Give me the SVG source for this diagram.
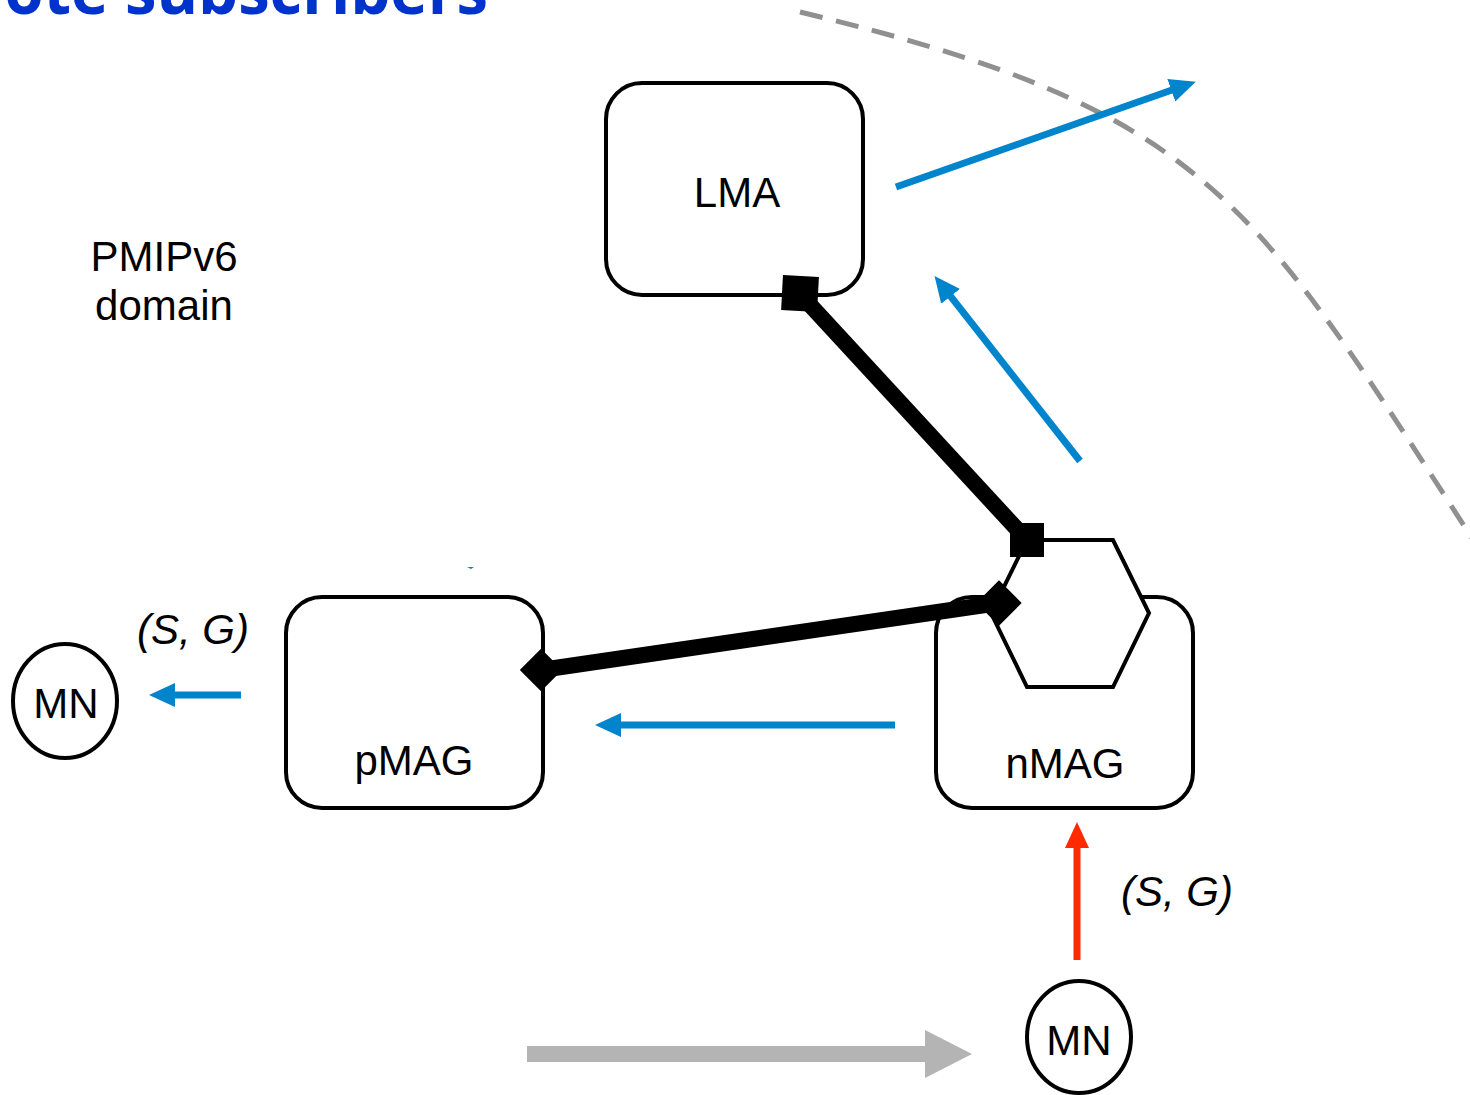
<svg xmlns="http://www.w3.org/2000/svg" width="1470" height="1095" viewBox="0 0 1470 1095">
<style>
.box{fill:#fff;stroke:#000;stroke-width:4}
.lbl{font-family:"Liberation Sans",Arial,sans-serif;font-size:42px;fill:#000}
.it{font-style:italic}
.blue{stroke:#0084CC;stroke-width:7;fill:none}
.thick{stroke:#000;stroke-width:16;fill:none}
.term{fill:#000}
</style>
<defs>
<marker id="ab" markerUnits="userSpaceOnUse" markerWidth="26" markerHeight="24" viewBox="0 0 26 24" refX="12" refY="12" orient="auto">
<path d="M0,0 L26,12 L0,24 z" fill="#0084CC"/>
</marker>
<marker id="ar" markerUnits="userSpaceOnUse" markerWidth="26" markerHeight="24" viewBox="0 0 26 24" refX="12" refY="12" orient="auto">
<path d="M0,0 L26,12 L0,24 z" fill="#FF2A00"/>
</marker>
</defs>
<rect width="1470" height="1095" fill="#fff"/>
<text x="488" y="14" text-anchor="end" font-family="'Open Sans','Liberation Sans',sans-serif" font-weight="bold" font-size="66" fill="#0033CC" textLength="625" lengthAdjust="spacingAndGlyphs">Remote subscribers</text>
<path id="domain-border" d="M800,12 C1208,110 1252,198 1472,538" fill="none" stroke="#909090" stroke-width="5" stroke-dasharray="23 14"/>
<text class="lbl" x="164" y="271" text-anchor="middle">PMIPv6</text>
<text class="lbl" x="164" y="320" text-anchor="middle">domain</text>
<g id="lma">
<rect class="box" x="606" y="83" width="257" height="212" rx="36"/>
<text class="lbl" x="737" y="207" text-anchor="middle">LMA</text>
</g>
<g id="pmag">
<rect class="box" x="286" y="597" width="257" height="211" rx="36"/>
<text class="lbl" x="414" y="775" text-anchor="middle">pMAG</text>
</g>
<g id="nmag">
<rect class="box" x="936" y="597" width="257" height="211" rx="36"/>
<polygon class="box" points="1027,540 1113,540 1149,613 1113,687 1027,687 991,613"/>
<text class="lbl" x="1065" y="778" text-anchor="middle">nMAG</text>
</g>
<g id="mn-left">
<ellipse cx="65" cy="701" rx="52" ry="57" fill="#fff" stroke="#000" stroke-width="4"/>
<text class="lbl" x="66" y="718" text-anchor="middle">MN</text>
</g>
<g id="mn-bottom">
<ellipse cx="1079" cy="1037" rx="52" ry="56" fill="#fff" stroke="#000" stroke-width="4"/>
<text class="lbl" x="1079" y="1055" text-anchor="middle">MN</text>
</g>
<text class="lbl it" x="193" y="644" text-anchor="middle">(S, G)</text>
<text class="lbl it" x="1177" y="906" text-anchor="middle">(S, G)</text>
<g id="connectors">
<line class="thick" x1="800" y1="294" x2="1027" y2="540"/>
<line class="thick" x1="541" y1="670" x2="999" y2="603" stroke-width="14"/>
<rect class="term" x="782" y="276" width="36" height="35" transform="rotate(3 800 294)"/>
<rect class="term" x="1010" y="523" width="34" height="34"/>
<rect class="term" x="983" y="587" width="32" height="32" transform="rotate(45 999 603)"/>
<rect class="term" x="526" y="655" width="30" height="30" transform="rotate(45 541 670)"/>
<line class="blue" x1="896" y1="187" x2="1182.6" y2="86.3" marker-end="url(#ab)"/>
<line class="blue" x1="1080" y1="461" x2="943.2" y2="286.9" marker-end="url(#ab)"/>
<line class="blue" x1="895" y1="725" x2="609" y2="725" marker-end="url(#ab)"/>
<line class="blue" x1="241" y1="695" x2="163" y2="695" marker-end="url(#ab)"/>
<line x1="1077" y1="960" x2="1077" y2="836" stroke="#FF2A00" stroke-width="7" marker-end="url(#ar)"/>
<line x1="527" y1="1054" x2="930" y2="1054" stroke="#B4B4B4" stroke-width="16"/>
<polygon points="925,1030 972,1054 925,1078" fill="#B4B4B4"/>
</g>
<path d="M467,567 L474,567 L471,569 z" fill="#0084CC"/>
</svg>
